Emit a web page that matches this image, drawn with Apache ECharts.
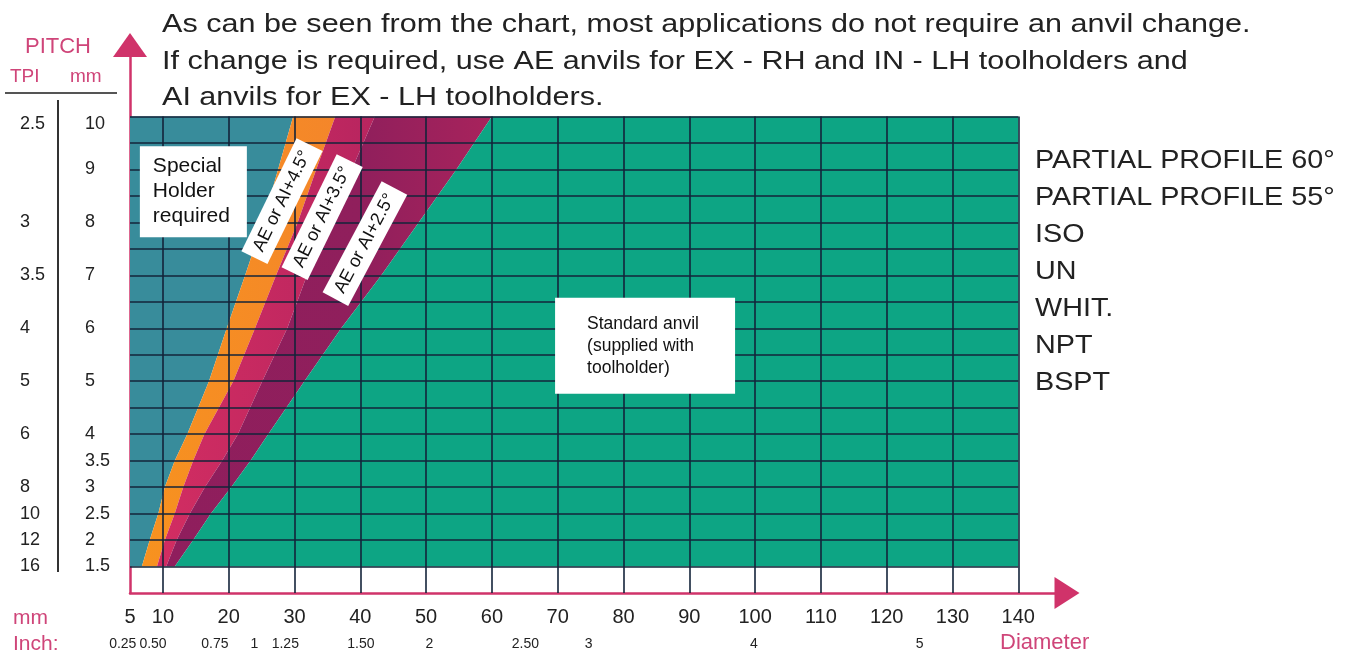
<!DOCTYPE html>
<html><head><meta charset="utf-8">
<script src="https://cdn.jsdelivr.net/npm/echarts@6/dist/echarts.min.js"></script>
<style>html,body{margin:0;padding:0;background:#fff}#c{width:1349px;height:653px}</style>
</head><body><div id="c"></div>
<script>
// ---------- data ----------
const pitchLevels   = [1.5, 2, 2.5, 3, 3.5, 4, 5, 6, 7, 8, 9, 10];          // pitch (mm)
const specialLimit  = [6.8, 8.0, 9.3, 10.3, 11.8, 13.7, 17.0, 19.7, 22.5, 25.2, 27.5, 29.8]; // diameter (mm)
const ae45Limit     = [9.1, 10.3, 11.8, 13.1, 14.6, 16.3, 20.7, 24.0, 27.2, 30.5, 33.3, 36.2];
const ae35Limit     = [10.5, 12.1, 14.1, 16.4, 19.0, 21.4, 25.1, 28.9, 31.9, 35.4, 38.7, 42.2];
const ae25Limit     = [11.8, 14.6, 17.3, 20.4, 23.3, 26.0, 31.5, 37.1, 43.2, 48.9, 54.6, 60.0];
const regionNames   = ['Special Holder required', 'AE or AI+4.5°', 'AE or AI+3.5°', 'AE or AI+2.5°', 'Standard anvil'];
const gridPitches   = [1.5, 2, 2.5, 3, 3.5, 4, 4.5, 5, 5.5, 6, 6.5, 7, 7.5, 8, 8.5, 9, 9.5, 10];
const diameterTicks = [5, 10, 20, 30, 40, 50, 60, 70, 80, 90, 100, 110, 120, 130, 140];
const mmTicks       = [10, 9, 8, 7, 6, 5, 4, 3.5, 3, 2.5, 2, 1.5];
const tpiLabels     = ['2.5', '3', '3.5', '4', '5', '6', '8', '10', '12', '16'];
const tpiPitch      = [10, 8, 7, 6, 5, 4, 3, 2.5, 2, 1.5];
const inchLabels    = ['0.25', '0.50', '0.75', '1', '1.25', '1.50', '2', '2.50', '3', '4', '5'];
const inchPos       = [3.9, 8.5, 17.9, 23.9, 28.6, 40.1, 50.5, 65.1, 74.7, 99.8, 125.0];
const profiles      = ['PARTIAL PROFILE 60°', 'PARTIAL PROFILE 55°', 'ISO', 'UN', 'WHIT.', 'NPT', 'BSPT'];
const headline      = ['As can be seen from the chart, most applications do not require an anvil change.',
                       'If change is required, use AE anvils for EX - RH and IN - LH toolholders and',
                       'AI anvils for EX - LH toolholders.'];

// pitch axis: 0.5 mm per row up to 4 mm, then 1 mm per two rows
const toRow = p => p <= 4 ? (p - 1.5) * 2 : 5 + (p - 4) * 2;
const D_MIN = 5, D_MAX = 140;
const TOP_ROW = toRow(10);

const FONT = '"Liberation Sans", Arial, Helvetica, sans-serif';
const PINK = '#d0336a';
const PINK_TXT = '#cf4579';

const chart = echarts.init(document.getElementById('c'), null, {renderer: 'canvas'});

const bounds = [specialLimit, ae45Limit, ae35Limit, ae25Limit];
const fills = [
  '#388c9b',
  new echarts.graphic.LinearGradient(0, 0, 1, 0, [{offset: 0, color: '#f7921f'}, {offset: 1, color: '#f4862a'}]),
  new echarts.graphic.LinearGradient(0, 0, 1, 0, [{offset: 0, color: '#d22d62'}, {offset: 1, color: '#b8255f'}]),
  new echarts.graphic.LinearGradient(0, 0, 1, 0, [{offset: 0, color: '#8f1e5d'}, {offset: 0.6, color: '#901f5c'}, {offset: 1, color: '#a8235c'}]),
  '#0da584'
];

const mmRowLabel = {};
mmTicks.forEach(v => { mmRowLabel[toRow(v).toFixed(2)] = String(v); });
const tpiRowLabel = {};
tpiPitch.forEach((p, i) => { tpiRowLabel[toRow(p).toFixed(2)] = tpiLabels[i]; });

const gridLines = [];
gridPitches.forEach(p => gridLines.push({coords: [[D_MIN, toRow(p)], [D_MAX, toRow(p)]]}));
diameterTicks.filter(d => d > D_MIN).forEach(d => gridLines.push({coords: [[d, -1], [d, TOP_ROW]]}));

const boxLabel = (extra) => Object.assign({
  show: true, position: 'inside', color: '#111', fontFamily: FONT, opacity: 1,
  backgroundColor: '#fff'
}, extra);

const option = {
  animation: false,
  grid: {left: 130, right: 282, top: 45, bottom: 60, containLabel: false},
  xAxis: {
    type: 'value', min: 5, max: 147.4,
    axisLine: {onZero: false, lineStyle: {color: PINK, width: 2.5}, symbol: ['none', 'triangle'], symbolSize: [32, 25]},
    axisTick: {show: false}, splitLine: {show: false},
    axisLabel: {customValues: diameterTicks, margin: 14, fontSize: 20, color: '#222', fontFamily: FONT}
  },
  yAxis: [{
    type: 'value', min: -1, max: 19.7,
    axisLine: {show: true, onZero: false, lineStyle: {color: PINK, width: 2.5}, symbol: ['none', 'triangle'], symbolSize: [34, 24]},
    axisTick: {show: false}, splitLine: {show: false},
    axisLabel: {
      customValues: mmTicks.map(toRow), margin: 45, align: 'left', fontSize: 18, color: '#222', fontFamily: FONT,
      formatter: v => { const s = mmRowLabel[v.toFixed(2)] || ''; return v >= TOP_ROW - 0.01 ? '{t|' + s + '}' : s; },
      rich: {t: {fontSize: 18, color: '#222', fontFamily: FONT, padding: [16, 0, 0, 0]}}
    }
  }, {
    type: 'value', min: -1, max: 19.7, position: 'left',
    axisLine: {show: false}, axisTick: {show: false}, splitLine: {show: false},
    axisLabel: {
      customValues: tpiPitch.map(toRow), margin: 110, align: 'left', fontSize: 18, color: '#222', fontFamily: FONT,
      formatter: v => { const s = tpiRowLabel[v.toFixed(2)] || ''; return v >= TOP_ROW - 0.01 ? '{t|' + s + '}' : s; },
      rich: {t: {fontSize: 18, color: '#222', fontFamily: FONT, padding: [16, 0, 0, 0]}}
    }
  }],
  series: [
    {
      type: 'custom', name: 'regions', z: 1, silent: true,
      data: regionNames.map((n, i) => ({name: n, value: [i, 0]})),
      renderItem: (params, api) => {
        const i = params.dataIndex;
        const left = i === 0 ? null : bounds[i - 1];
        const right = i === bounds.length ? null : bounds[i];
        const pts = [];
        pitchLevels.forEach((p, k) => pts.push(api.coord([left ? left[k] : D_MIN, toRow(p)])));
        for (let k = pitchLevels.length - 1; k >= 0; k--) pts.push(api.coord([right ? right[k] : D_MAX, toRow(pitchLevels[k])]));
        return {type: 'polygon', shape: {points: pts}, style: {fill: fills[i]}};
      }
    },
    {
      type: 'lines', coordinateSystem: 'cartesian2d', z: 3, silent: true, polyline: false,
      lineStyle: {color: '#13243a', width: 1.6, opacity: 1},
      data: gridLines
    },
    {
      type: 'scatter', z: 10, silent: true, clip: false, symbolSize: 1, itemStyle: {color: 'rgba(0,0,0,0)'},
      data: [
        {value: [6.5, toRow(8.58)], label: boxLabel({formatter: 'Special\nHolder\nrequired', align: 'left', verticalAlign: 'middle',
          fontSize: 21, lineHeight: 25, width: 82, padding: [8, 12, 8, 13]})},
        {value: [69.6, toRow(5.67)], label: boxLabel({formatter: 'Standard anvil\n(supplied with\ntoolholder)', align: 'left', verticalAlign: 'middle',
          fontSize: 17.5, lineHeight: 22, width: 128, padding: [15, 20, 15, 32]})},
        {value: [28.1, toRow(8.4)], label: boxLabel({formatter: regionNames[1], rotate: 64, fontSize: 18, padding: [6, 8, 5, 8]})},
        {value: [34.2, toRow(8.1)], label: boxLabel({formatter: regionNames[2], rotate: 64, fontSize: 18, padding: [6, 8, 5, 8]})},
        {value: [40.7, toRow(7.6)], label: boxLabel({formatter: regionNames[3], rotate: 62, fontSize: 18, padding: [6, 8, 5, 8]})}
      ]
    },
    {
      type: 'scatter', z: 10, silent: true, clip: false, symbolSize: 1, itemStyle: {color: 'rgba(0,0,0,0)'},
      data: inchPos.map((x, i) => ({value: [x, -2.93], name: inchLabels[i]})),
      label: {show: true, opacity: 1, position: 'inside', formatter: p => p.name, fontSize: 14, color: '#222', fontFamily: FONT}
    }
  ],
  graphic: [
    {type: 'text', x: 162, y: 7, scaleX: 1.175, style: {text: headline.join('\n'), font: '26px ' + FONT, lineHeight: 36.5, fill: '#222', textVerticalAlign: 'top'}},
    {type: 'text', x: 1035, y: 143, scaleX: 1.15, style: {text: profiles.join('\n'), font: '25px ' + FONT, lineHeight: 37, fill: '#222', textVerticalAlign: 'top'}},
    {type: 'text', x: 58, y: 47, style: {text: 'PITCH', font: '22px ' + FONT, fill: PINK_TXT, textAlign: 'center', textVerticalAlign: 'middle'}},
    {type: 'text', x: 10, y: 77, style: {text: 'TPI', font: '19px ' + FONT, fill: PINK_TXT, textVerticalAlign: 'middle'}},
    {type: 'text', x: 70, y: 77, style: {text: 'mm', font: '19px ' + FONT, fill: PINK_TXT, textVerticalAlign: 'middle'}},
    {type: 'line', shape: {x1: 5, y1: 93, x2: 117, y2: 93}, style: {stroke: '#555', lineWidth: 2}},
    {type: 'line', shape: {x1: 58, y1: 100, x2: 58, y2: 572}, style: {stroke: '#333', lineWidth: 2}},
    {type: 'text', x: 13, y: 618, style: {text: 'mm', font: '21px ' + FONT, fill: PINK_TXT, textVerticalAlign: 'middle'}},
    {type: 'text', x: 13, y: 644, style: {text: 'Inch:', font: '21px ' + FONT, fill: PINK_TXT, textVerticalAlign: 'middle'}},
    {type: 'text', x: 1000, y: 643, style: {text: 'Diameter', font: '22px ' + FONT, fill: PINK_TXT, textVerticalAlign: 'middle'}}
  ]
};
chart.setOption(option);
</script></body></html>
